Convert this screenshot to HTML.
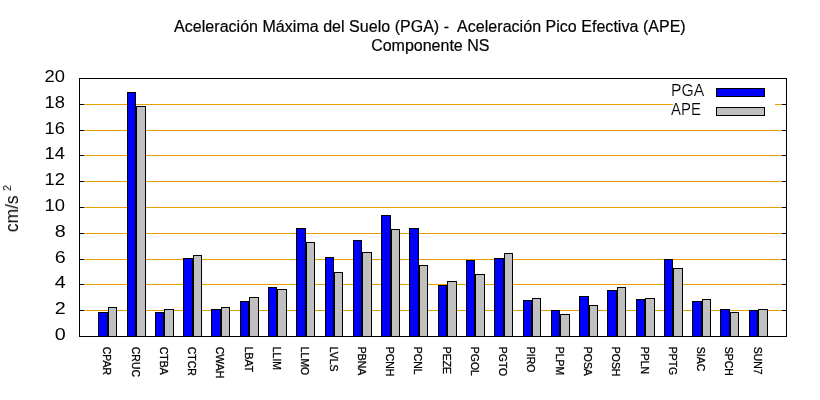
<!DOCTYPE html><html><head><meta charset="utf-8"><style>html,body{margin:0;padding:0;background:#fff;}svg{display:block;}text{font-family:"Liberation Sans",sans-serif;fill:#000;}</style></head><body>
<svg width="820" height="400" viewBox="0 0 820 400">
<rect x="0" y="0" width="820" height="400" fill="#fff"/>
<g shape-rendering="crispEdges"><rect x="84" y="310" width="698" height="1" fill="#e69f00"/><rect x="80" y="310" width="4" height="1" fill="#000"/><rect x="782" y="310" width="4" height="1" fill="#000"/><rect x="84" y="284" width="698" height="1" fill="#e69f00"/><rect x="80" y="284" width="4" height="1" fill="#000"/><rect x="782" y="284" width="4" height="1" fill="#000"/><rect x="84" y="259" width="698" height="1" fill="#e69f00"/><rect x="80" y="259" width="4" height="1" fill="#000"/><rect x="782" y="259" width="4" height="1" fill="#000"/><rect x="84" y="233" width="698" height="1" fill="#e69f00"/><rect x="80" y="233" width="4" height="1" fill="#000"/><rect x="782" y="233" width="4" height="1" fill="#000"/><rect x="84" y="207" width="698" height="1" fill="#e69f00"/><rect x="80" y="207" width="4" height="1" fill="#000"/><rect x="782" y="207" width="4" height="1" fill="#000"/><rect x="84" y="181" width="698" height="1" fill="#e69f00"/><rect x="80" y="181" width="4" height="1" fill="#000"/><rect x="782" y="181" width="4" height="1" fill="#000"/><rect x="84" y="155" width="698" height="1" fill="#e69f00"/><rect x="80" y="155" width="4" height="1" fill="#000"/><rect x="782" y="155" width="4" height="1" fill="#000"/><rect x="84" y="130" width="698" height="1" fill="#e69f00"/><rect x="80" y="130" width="4" height="1" fill="#000"/><rect x="782" y="130" width="4" height="1" fill="#000"/><rect x="84" y="104" width="589" height="1" fill="#e69f00"/><rect x="775" y="104" width="7" height="1" fill="#e69f00"/><rect x="80" y="104" width="4" height="1" fill="#000"/><rect x="782" y="104" width="4" height="1" fill="#000"/></g>
<g shape-rendering="crispEdges"><rect x="98" y="312" width="10" height="25" fill="#000"/><rect x="99" y="313" width="8" height="23" fill="#0000ff"/><rect x="108" y="307" width="9" height="30" fill="#000"/><rect x="109" y="308" width="7" height="28" fill="#c0c0c0"/><rect x="127" y="92" width="9" height="245" fill="#000"/><rect x="128" y="93" width="7" height="243" fill="#0000ff"/><rect x="136" y="106" width="10" height="231" fill="#000"/><rect x="137" y="107" width="8" height="229" fill="#c0c0c0"/><rect x="155" y="312" width="9" height="25" fill="#000"/><rect x="156" y="313" width="7" height="23" fill="#0000ff"/><rect x="164" y="309" width="10" height="28" fill="#000"/><rect x="165" y="310" width="8" height="26" fill="#c0c0c0"/><rect x="183" y="258" width="10" height="79" fill="#000"/><rect x="184" y="259" width="8" height="77" fill="#0000ff"/><rect x="193" y="255" width="9" height="82" fill="#000"/><rect x="194" y="256" width="7" height="80" fill="#c0c0c0"/><rect x="211" y="309" width="10" height="28" fill="#000"/><rect x="212" y="310" width="8" height="26" fill="#0000ff"/><rect x="221" y="307" width="9" height="30" fill="#000"/><rect x="222" y="308" width="7" height="28" fill="#c0c0c0"/><rect x="240" y="301" width="9" height="36" fill="#000"/><rect x="241" y="302" width="7" height="34" fill="#0000ff"/><rect x="249" y="297" width="10" height="40" fill="#000"/><rect x="250" y="298" width="8" height="38" fill="#c0c0c0"/><rect x="268" y="287" width="9" height="50" fill="#000"/><rect x="269" y="288" width="7" height="48" fill="#0000ff"/><rect x="277" y="289" width="10" height="48" fill="#000"/><rect x="278" y="290" width="8" height="46" fill="#c0c0c0"/><rect x="296" y="228" width="10" height="109" fill="#000"/><rect x="297" y="229" width="8" height="107" fill="#0000ff"/><rect x="306" y="242" width="9" height="95" fill="#000"/><rect x="307" y="243" width="7" height="93" fill="#c0c0c0"/><rect x="325" y="257" width="9" height="80" fill="#000"/><rect x="326" y="258" width="7" height="78" fill="#0000ff"/><rect x="334" y="272" width="9" height="65" fill="#000"/><rect x="335" y="273" width="7" height="63" fill="#c0c0c0"/><rect x="353" y="240" width="9" height="97" fill="#000"/><rect x="354" y="241" width="7" height="95" fill="#0000ff"/><rect x="362" y="252" width="10" height="85" fill="#000"/><rect x="363" y="253" width="8" height="83" fill="#c0c0c0"/><rect x="381" y="215" width="10" height="122" fill="#000"/><rect x="382" y="216" width="8" height="120" fill="#0000ff"/><rect x="391" y="229" width="9" height="108" fill="#000"/><rect x="392" y="230" width="7" height="106" fill="#c0c0c0"/><rect x="409" y="228" width="10" height="109" fill="#000"/><rect x="410" y="229" width="8" height="107" fill="#0000ff"/><rect x="419" y="265" width="9" height="72" fill="#000"/><rect x="420" y="266" width="7" height="70" fill="#c0c0c0"/><rect x="438" y="285" width="9" height="52" fill="#000"/><rect x="439" y="286" width="7" height="50" fill="#0000ff"/><rect x="447" y="281" width="10" height="56" fill="#000"/><rect x="448" y="282" width="8" height="54" fill="#c0c0c0"/><rect x="466" y="260" width="9" height="77" fill="#000"/><rect x="467" y="261" width="7" height="75" fill="#0000ff"/><rect x="475" y="274" width="10" height="63" fill="#000"/><rect x="476" y="275" width="8" height="61" fill="#c0c0c0"/><rect x="494" y="258" width="10" height="79" fill="#000"/><rect x="495" y="259" width="8" height="77" fill="#0000ff"/><rect x="504" y="253" width="9" height="84" fill="#000"/><rect x="505" y="254" width="7" height="82" fill="#c0c0c0"/><rect x="523" y="300" width="9" height="37" fill="#000"/><rect x="524" y="301" width="7" height="35" fill="#0000ff"/><rect x="532" y="298" width="9" height="39" fill="#000"/><rect x="533" y="299" width="7" height="37" fill="#c0c0c0"/><rect x="551" y="310" width="9" height="27" fill="#000"/><rect x="552" y="311" width="7" height="25" fill="#0000ff"/><rect x="560" y="314" width="10" height="23" fill="#000"/><rect x="561" y="315" width="8" height="21" fill="#c0c0c0"/><rect x="579" y="296" width="10" height="41" fill="#000"/><rect x="580" y="297" width="8" height="39" fill="#0000ff"/><rect x="589" y="305" width="9" height="32" fill="#000"/><rect x="590" y="306" width="7" height="30" fill="#c0c0c0"/><rect x="607" y="290" width="10" height="47" fill="#000"/><rect x="608" y="291" width="8" height="45" fill="#0000ff"/><rect x="617" y="287" width="9" height="50" fill="#000"/><rect x="618" y="288" width="7" height="48" fill="#c0c0c0"/><rect x="636" y="299" width="9" height="38" fill="#000"/><rect x="637" y="300" width="7" height="36" fill="#0000ff"/><rect x="645" y="298" width="10" height="39" fill="#000"/><rect x="646" y="299" width="8" height="37" fill="#c0c0c0"/><rect x="664" y="259" width="9" height="78" fill="#000"/><rect x="665" y="260" width="7" height="76" fill="#0000ff"/><rect x="673" y="268" width="10" height="69" fill="#000"/><rect x="674" y="269" width="8" height="67" fill="#c0c0c0"/><rect x="692" y="301" width="10" height="36" fill="#000"/><rect x="693" y="302" width="8" height="34" fill="#0000ff"/><rect x="702" y="299" width="9" height="38" fill="#000"/><rect x="703" y="300" width="7" height="36" fill="#c0c0c0"/><rect x="720" y="309" width="10" height="28" fill="#000"/><rect x="721" y="310" width="8" height="26" fill="#0000ff"/><rect x="730" y="312" width="9" height="25" fill="#000"/><rect x="731" y="313" width="7" height="23" fill="#c0c0c0"/><rect x="749" y="310" width="9" height="27" fill="#000"/><rect x="750" y="311" width="7" height="25" fill="#0000ff"/><rect x="758" y="309" width="10" height="28" fill="#000"/><rect x="759" y="310" width="8" height="26" fill="#c0c0c0"/></g>
<g shape-rendering="crispEdges"><rect x="79" y="78" width="708" height="1" fill="#000"/><rect x="79" y="336" width="708" height="1" fill="#000"/><rect x="79" y="78" width="1" height="259" fill="#000"/><rect x="786" y="78" width="1" height="259" fill="#000"/><rect x="716" y="88" width="49" height="9" fill="#000"/><rect x="717" y="89" width="47" height="7" fill="#0000ff"/><rect x="716" y="107" width="49" height="9" fill="#000"/><rect x="717" y="108" width="47" height="7" fill="#c0c0c0"/></g>
<g style="filter:grayscale(1)"><text x="429.9" y="32" font-size="16" text-anchor="middle" xml:space="preserve" stroke="#000" stroke-width="0.2" letter-spacing="0.03">Aceleración Máxima del Suelo (PGA) -  Aceleración Pico Efectiva (APE)</text><text x="430.3" y="51" font-size="16" text-anchor="middle" stroke="#000" stroke-width="0.2">Componente NS</text><text transform="translate(65.8,340) scale(1.16,1)" font-size="17" text-anchor="end">0</text><text transform="translate(65.8,314) scale(1.16,1)" font-size="17" text-anchor="end">2</text><text transform="translate(65.8,288) scale(1.16,1)" font-size="17" text-anchor="end">4</text><text transform="translate(65.8,263) scale(1.16,1)" font-size="17" text-anchor="end">6</text><text transform="translate(65.8,237) scale(1.16,1)" font-size="17" text-anchor="end">8</text><text transform="translate(64.9,211) scale(1.08,1)" font-size="17" text-anchor="end">10</text><text transform="translate(64.9,185) scale(1.08,1)" font-size="17" text-anchor="end">12</text><text transform="translate(64.9,159) scale(1.08,1)" font-size="17" text-anchor="end">14</text><text transform="translate(64.9,134) scale(1.08,1)" font-size="17" text-anchor="end">16</text><text transform="translate(64.9,108) scale(1.08,1)" font-size="17" text-anchor="end">18</text><text transform="translate(64.9,82) scale(1.08,1)" font-size="17" text-anchor="end">20</text><text transform="translate(671,96) scale(0.98,1)" font-size="16" stroke="#fff" stroke-width="0.15">PGA</text><text transform="translate(671,115) scale(0.935,1)" font-size="16" stroke="#fff" stroke-width="0.15">APE</text><text transform="translate(18,232.2) rotate(-90) scale(0.97,1)" font-size="18">cm/s<tspan font-size="11" dx="4.5" dy="-7.5">2</tspan></text><text transform="translate(103.00,346.8) rotate(90) scale(0.95,1)" font-size="11" stroke="#000" stroke-width="0.3">CPAR</text><text transform="translate(132.00,346.8) rotate(90) scale(0.95,1)" font-size="11" stroke="#000" stroke-width="0.3">CRUC</text><text transform="translate(160.00,346.8) rotate(90) scale(0.95,1)" font-size="11" stroke="#000" stroke-width="0.3">CTBA</text><text transform="translate(188.00,346.8) rotate(90) scale(0.95,1)" font-size="11" stroke="#000" stroke-width="0.3">CTCR</text><text transform="translate(216.00,346.8) rotate(90) scale(0.95,1)" font-size="11" stroke="#000" stroke-width="0.3">CWAH</text><text transform="translate(245.00,346.8) rotate(90) scale(0.95,1)" font-size="11" stroke="#000" stroke-width="0.3">LBAT</text><text transform="translate(273.00,346.8) rotate(90) scale(0.95,1)" font-size="11" stroke="#000" stroke-width="0.3">LLIM</text><text transform="translate(301.00,346.8) rotate(90) scale(0.95,1)" font-size="11" stroke="#000" stroke-width="0.3">LLMO</text><text transform="translate(330.00,346.8) rotate(90) scale(0.95,1)" font-size="11" stroke="#000" stroke-width="0.3">LVLS</text><text transform="translate(358.00,346.8) rotate(90) scale(0.95,1)" font-size="11" stroke="#000" stroke-width="0.3">PBNA</text><text transform="translate(386.00,346.8) rotate(90) scale(0.95,1)" font-size="11" stroke="#000" stroke-width="0.3">PCNH</text><text transform="translate(414.00,346.8) rotate(90) scale(0.95,1)" font-size="11" stroke="#000" stroke-width="0.3">PCNL</text><text transform="translate(443.00,346.8) rotate(90) scale(0.95,1)" font-size="11" stroke="#000" stroke-width="0.3">PEZE</text><text transform="translate(471.00,346.8) rotate(90) scale(0.95,1)" font-size="11" stroke="#000" stroke-width="0.3">PGOL</text><text transform="translate(499.00,346.8) rotate(90) scale(0.95,1)" font-size="11" stroke="#000" stroke-width="0.3">PGTO</text><text transform="translate(527.00,346.8) rotate(90) scale(0.95,1)" font-size="11" stroke="#000" stroke-width="0.3">PIRO</text><text transform="translate(556.00,346.8) rotate(90) scale(0.95,1)" font-size="11" stroke="#000" stroke-width="0.3">PLPM</text><text transform="translate(584.00,346.8) rotate(90) scale(0.95,1)" font-size="11" stroke="#000" stroke-width="0.3">POSA</text><text transform="translate(612.00,346.8) rotate(90) scale(0.95,1)" font-size="11" stroke="#000" stroke-width="0.3">POSH</text><text transform="translate(641.00,346.8) rotate(90) scale(0.95,1)" font-size="11" stroke="#000" stroke-width="0.3">PPLN</text><text transform="translate(669.00,346.8) rotate(90) scale(0.95,1)" font-size="11" stroke="#000" stroke-width="0.3">PPTG</text><text transform="translate(697.00,346.8) rotate(90) scale(0.95,1)" font-size="11" stroke="#000" stroke-width="0.3">SIAC</text><text transform="translate(725.00,346.8) rotate(90) scale(0.95,1)" font-size="11" stroke="#000" stroke-width="0.3">SPCH</text><text transform="translate(754.00,346.8) rotate(90) scale(0.95,1)" font-size="11" stroke="#000" stroke-width="0.3">SUN7</text></g>
</svg></body></html>
